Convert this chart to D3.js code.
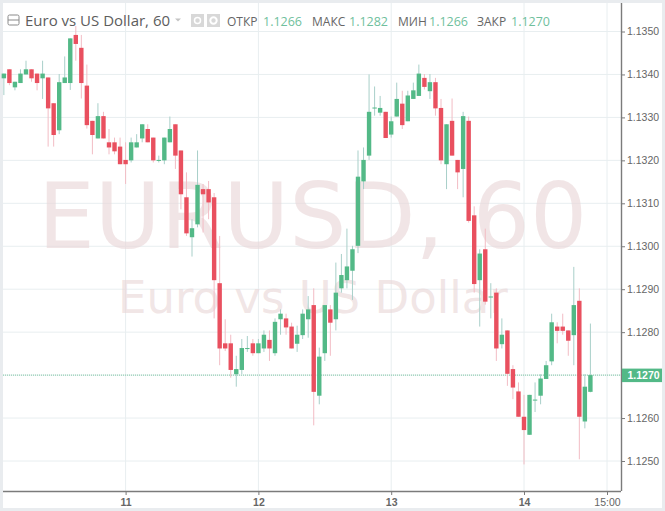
<!DOCTYPE html>
<html><head><meta charset="utf-8">
<script src="https://cdn.jsdelivr.net/npm/d3@7"></script>
<style>html,body{margin:0;padding:0;background:#e9ecef}svg{display:block}</style>
</head><body><svg id="c" width="665" height="511"></svg>
<script>
// hours since the start of the 11th
const firstHour = -22;
const open  = [
1.13391,1.13412,1.13370,1.13380,1.13400,1.13412,1.13402,1.13391,1.13393,1.13333,
1.13270,1.13380,1.13380,1.13492,1.13462,1.13374,1.13292,1.13251,1.13303,1.13242,
1.13242,1.13232,1.13201,1.13200,1.13230,1.13251,1.13273,1.13253,1.13200,1.13200,
1.13242,1.13284,1.13223,1.13114,1.13021,1.13051,1.13133,1.13133,1.13114,1.12914,
1.12774,1.12774,1.12702,1.12712,1.12762,1.12774,1.12751,1.12762,1.12782,1.12751,
1.12830,1.12832,1.12813,1.12773,1.12793,1.12830,1.12863,1.12652,1.12751,1.12853,
1.12830,1.12902,1.12921,1.12943,1.13001,1.13151,1.13211,1.13322,1.13311,1.13313,
1.13260,1.13302,1.13332,1.13291,1.13343,1.13350,1.13392,1.13361,1.13382,1.13322,
1.13191,1.13292,1.13201,1.13180,1.13292,1.13072,1.12921,1.12993,1.12882,1.12892,
1.12772,1.12804,1.12714,1.12662,1.12603,1.12561,1.12642,1.12652,1.12691,1.12732,
1.12813,1.12813,1.12804,1.12793,1.12873,1.12592,1.12661];
const high  = [
1.13402,1.13412,1.13383,1.13412,1.13432,1.13412,1.13402,1.13432,1.13393,1.13333,
1.13401,1.13442,1.13484,1.13513,1.13492,1.13423,1.13292,1.13333,1.13313,1.13273,
1.13253,1.13253,1.13242,1.13253,1.13261,1.13284,1.13284,1.13253,1.13211,1.13253,
1.13302,1.13284,1.13223,1.13172,1.13063,1.13223,1.13145,1.13152,1.13124,1.13024,
1.12830,1.12794,1.12745,1.12784,1.12791,1.12784,1.12784,1.12804,1.12804,1.12832,
1.12853,1.12843,1.12822,1.12815,1.12853,1.12884,1.12902,1.12764,1.12863,1.12863,
1.12962,1.12982,1.13041,1.13001,1.13223,1.13230,1.13400,1.13372,1.13350,1.13313,
1.13302,1.13381,1.13362,1.13362,1.13381,1.13423,1.13401,1.13401,1.13392,1.13343,
1.13284,1.13344,1.13201,1.13313,1.13302,1.13093,1.12993,1.13041,1.12914,1.12902,
1.12832,1.12804,1.12723,1.12683,1.12654,1.12654,1.12683,1.12702,1.12733,1.12843,
1.12823,1.12843,1.12804,1.12952,1.12902,1.12702,1.12820];
const low   = [
1.13352,1.13375,1.13363,1.13380,1.13400,1.13383,1.13363,1.13343,1.13232,1.13232,
1.13261,1.13380,1.13364,1.13432,1.13344,1.13274,1.13214,1.13251,1.13251,1.13214,
1.13214,1.13191,1.13145,1.13195,1.13230,1.13242,1.13242,1.13195,1.13195,1.13191,
1.13242,1.13180,1.13086,1.13024,1.12976,1.13044,1.13032,1.13063,1.12832,1.12723,
1.12756,1.12694,1.12673,1.12702,1.12754,1.12745,1.12751,1.12754,1.12733,1.12745,
1.12794,1.12794,1.12762,1.12754,1.12784,1.12787,1.12583,1.12632,1.12733,1.12745,
1.12804,1.12892,1.12902,1.12875,1.12984,1.13133,1.13201,1.13304,1.13304,1.13252,
1.13253,1.13302,1.13273,1.13291,1.13343,1.13350,1.13365,1.13343,1.13304,1.13191,
1.13133,1.13211,1.13133,1.13114,1.13055,1.12892,1.12813,1.12864,1.12832,1.12733,
1.12762,1.12675,1.12644,1.12603,1.12492,1.12561,1.12614,1.12632,1.12691,1.12723,
1.12774,1.12794,1.12745,1.12723,1.12504,1.12576,1.12660];
const close = [
1.13402,1.13380,1.13383,1.13402,1.13412,1.13391,1.13380,1.13402,1.13321,1.13259,
1.13382,1.13393,1.13484,1.13471,1.13380,1.13282,1.13259,1.13303,1.13251,1.13230,
1.13221,1.13191,1.13191,1.13242,1.13242,1.13284,1.13242,1.13200,1.13201,1.13253,
1.13273,1.13211,1.13121,1.13030,1.13042,1.13143,1.13121,1.13102,1.12921,1.12762,
1.12762,1.12712,1.12714,1.12763,1.12763,1.12751,1.12774,1.12794,1.12762,1.12824,
1.12843,1.12811,1.12762,1.12794,1.12843,1.12853,1.12661,1.12743,1.12863,1.12822,
1.12892,1.12933,1.12953,1.12993,1.13162,1.13201,1.13313,1.13323,1.13322,1.13252,
1.13291,1.13343,1.13282,1.13351,1.13363,1.13402,1.13371,1.13382,1.13321,1.13200,
1.13284,1.13211,1.13172,1.13303,1.13059,1.12912,1.12983,1.12871,1.12883,1.12762,
1.12794,1.12703,1.12671,1.12603,1.12572,1.12654,1.12643,1.12692,1.12723,1.12823,
1.12803,1.12803,1.12780,1.12863,1.12603,1.12673,1.12700];
const priceTicks = [1.1250,1.1260,1.1270,1.1280,1.1290,1.1300,1.1310,1.1320,1.1330,1.1340,1.1350];
const timeTicks = [0,24,48,72,87];
const timeLabels = ["11","12","13","14","15:00"];
const lastPrice = 1.1270;
const headerTitle = "Euro vs US Dollar, 60";
const headerFields = ["ОТКР","МАКС","МИН","ЗАКР"];
const headerValues = ["1.1266","1.1282","1.1266","1.1270"];
const watermarkBig = "EURUSD, 60";
const watermarkSmall = "Euro vs US Dollar";

const candles = open.map((o,i)=>({h:firstHour+i,o,hi:high[i],lo:low[i],c:close[i]}));
const svg = d3.select("#c");
const L=3,R=621,T=3,B=491;
const x = d3.scaleLinear().domain([0,24]).range([125.6,258.4]);
const y = d3.scaleLinear().domain([1.1250,1.1350]).range([461,31.5]);
const up="#53b987",down="#e9505f",upW="#a8cfc9",downW="#f2bcc4",axisC="#7b7b7b",textC="#666";
const sans="'Liberation Sans',Arial,sans-serif", ui="'Open Sans',sans-serif";

svg.append("rect").attr("x",L).attr("y",T).attr("width",659).attr("height",505).attr("fill","#fff");

const grid=svg.append("g").attr("stroke","#e8eef0").attr("stroke-width",1);
grid.selectAll(".h").data(priceTicks).join("line").attr("x1",L).attr("x2",R).attr("y1",d=>y(d)).attr("y2",d=>y(d));
grid.selectAll(".v").data(timeTicks).join("line").attr("y1",T).attr("y2",B).attr("x1",d=>x(d)).attr("x2",d=>x(d));

const wm=svg.append("g").attr("font-family","'DejaVu Sans',sans-serif").attr("fill","#e9d5d6").attr("fill-opacity",.62);
wm.append("text").attr("x",38).attr("y",248).attr("font-size",90).text(watermarkBig);
wm.append("text").attr("x",118).attr("y",313).attr("font-size",45).text(watermarkSmall);

svg.append("line").attr("x1",L).attr("x2",R).attr("y1",y(lastPrice)).attr("y2",y(lastPrice))
  .attr("stroke",up).attr("stroke-opacity",.75).attr("stroke-dasharray","1 1");

const g=svg.append("g");
const isUp=d=>d.c>=d.o;
g.selectAll(".w").data(candles).join("line")
 .attr("x1",d=>x(d.h)).attr("x2",d=>x(d.h)).attr("y1",d=>y(d.hi)).attr("y2",d=>y(d.lo))
 .attr("stroke",d=>isUp(d)?upW:downW).attr("stroke-width",1);
g.selectAll(".b").data(candles).join("rect")
 .attr("x",d=>x(d.h)-2.2).attr("width",4.4)
 .attr("y",d=>y(Math.max(d.o,d.c)))
 .attr("height",d=>Math.max(1,Math.abs(y(d.o)-y(d.c))))
 .attr("fill",d=>isUp(d)?up:down);

// axes
const ay=svg.append("g").attr("transform",`translate(${R},0)`)
 .call(d3.axisRight(y).tickValues(priceTicks).tickFormat(d3.format(".4f")).tickSize(4).tickPadding(2));
ay.select(".domain").attr("d",`M0.5,${T}V${B}`).attr("stroke",axisC).attr("stroke-width",1.4);
ay.selectAll("line").attr("stroke",axisC);
ay.selectAll("text").attr("font-family",sans).attr("font-size",10.5).attr("fill",textC);

const ax=svg.append("g").attr("transform",`translate(0,${B})`)
 .call(d3.axisBottom(x).tickValues(timeTicks).tickFormat((d,i)=>timeLabels[i]).tickSize(4).tickPadding(4));
ax.select(".domain").attr("d",`M${L},0.5H${R}`).attr("stroke",axisC).attr("stroke-width",1.4);
ax.selectAll("line").attr("stroke",axisC);
ax.selectAll("text").attr("font-family",sans).attr("font-size",10.5).attr("fill",textC);
ax.selectAll("text").attr("font-weight",(d,i)=>i<4?"bold":"normal");

// last price tag
const tag=svg.append("g");
tag.append("rect").attr("x",622).attr("y",y(lastPrice)-6.5).attr("width",40).attr("height",13.5).attr("fill",up);
tag.append("text").attr("x",627.5).attr("y",y(lastPrice)+4).attr("font-family",sans).attr("font-size",10.5).attr("font-weight","bold").attr("fill","#fff").text(d3.format(".4f")(lastPrice));

// header
const hd=svg.append("g").attr("font-family",ui);
hd.append("rect").attr("x",8).attr("y",15).attr("width",11).attr("height",10).attr("rx",1.5).attr("fill","none").attr("stroke","#8a8a8a");
hd.append("line").attr("x1",8).attr("x2",19).attr("y1",20).attr("y2",20).attr("stroke","#8a8a8a");
hd.append("text").attr("x",25).attr("y",26).attr("font-size",15).attr("fill","#5d5d5d").text(headerTitle);
hd.append("path").attr("d","M175,18.5h6l-3,3z").attr("fill","#c4c4c4");
hd.append("rect").attr("x",191).attr("y",14).attr("width",13).attr("height",13).attr("fill","#d8d8d8");
hd.append("circle").attr("cx",197.5).attr("cy",20.5).attr("r",3).attr("fill","none").attr("stroke","#fff").attr("stroke-width",1.5);
hd.append("rect").attr("x",207).attr("y",14).attr("width",13).attr("height",13).attr("fill","#d8d8d8");
hd.append("circle").attr("cx",213.5).attr("cy",20.5).attr("r",3.2).attr("fill","none").attr("stroke","#fff").attr("stroke-width",2);
const fx=[227,312,398,477], vx=[263,349,429,511];
hd.selectAll(".f").data(headerFields).join("text").attr("x",(d,i)=>fx[i]).attr("y",26).attr("font-size",12).attr("fill","#666").text(d=>d);
hd.selectAll(".v").data(headerValues).join("text").attr("x",(d,i)=>vx[i]).attr("y",26).attr("font-size",12.5).attr("fill","#6fbf9d").text(d=>d);
</script></body></html>
